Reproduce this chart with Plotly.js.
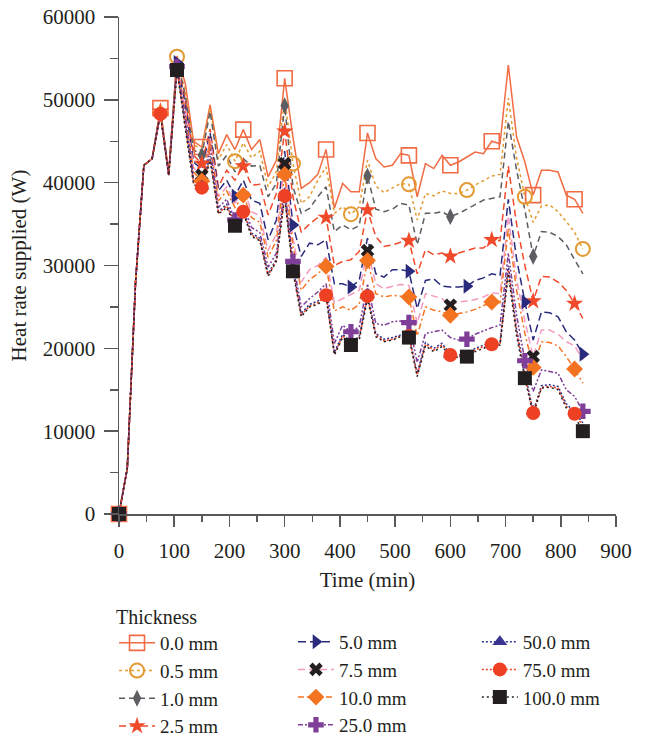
<!DOCTYPE html>
<html>
<head>
<meta charset="utf-8">
<script src="https://cdn.plot.ly/plotly-3.0.1.min.js"></script>
<style>
  html, body { margin: 0; padding: 0; background: #ffffff; }
  #chart { width: 645px; height: 737px; }
</style>
</head>
<body>
<div id="chart"></div>
<script>
// Time axis (min), one sample every 15 min
const timeMin = [0,15,30,45,60,75,90,105,120,135,150,165,180,195,210,225,240,255,270,285,300,315,330,345,360,375,390,405,420,435,450,465,480,495,510,525,540,555,570,585,600,615,630,645,660,675,690,705,720,735,750,765,780,795,810,825,840];

// Heat rate supplied (W) for each insulation thickness
const heat0mm = [0,5500,28000,42100,42900,49000,41100,
  55300,52000,45000,44300,49400,43500,45800,44000,46400,44000,
  45200,40700,42700,52600,45500,39300,40000,41000,44000,36900,
  39900,38900,38900,46000,42900,41900,42100,43500,43300,38300,
  42300,41700,43300,42100,42500,43100,43700,43500,45000,44700,
  54200,45500,42500,38500,41500,41500,41300,38500,38000,36300];
const heat05mm = [0,5500,28000,42100,42900,48900,41100,
  55200,51000,44700,43800,49000,42800,44600,42600,44800,43000,
  43800,39500,41300,50300,42300,37500,38300,40300,41900,36300,
  37100,36200,37100,42700,39600,38800,39300,39900,39800,35500,
  38700,38400,39000,38700,38700,39100,39700,40300,40800,41000,
  50200,43000,38300,35200,37200,37300,36500,35300,34000,32000];
const heat1mm = [0,5500,28000,42100,42900,48800,41100,
  55000,50500,44000,43300,48600,42000,43300,41300,42900,42000,
  42100,38300,39900,49300,39500,36300,36900,38300,39500,34100,
  34900,34300,34800,40800,36800,36500,36800,37500,37300,32500,
  36300,36300,36500,35900,36300,36800,37300,37900,38100,38300,
  47400,41500,36700,31100,34100,34000,33500,32500,30700,29000];
const heat25mm = [0,5500,28000,42100,42900,48600,41100,
  54800,50000,43300,42300,46500,39500,41500,40300,42000,39700,
  39800,36100,38700,46200,38300,34000,35000,35800,35800,30000,
  30500,30700,31700,36700,33500,32300,32500,32800,33000,29000,
  31900,31300,31500,31100,31500,31800,32100,32100,33100,33000,
  42000,35000,30000,25700,28700,28600,28000,27000,25400,23600];
const heat5mm = [0,5500,28000,42100,42900,48500,41000,
  54500,49500,42500,41600,46000,39000,40300,38400,40300,37900,
  37500,33100,35500,43800,34900,31100,32700,32500,33100,27800,
  27800,27400,28200,33300,29000,28600,29500,29500,29300,24800,
  28200,28400,27500,27400,27400,27500,28200,28500,29000,28800,
  38000,30800,25600,21000,24400,24300,23800,22000,21000,19300];
const heat75mm = [0,5500,28000,42100,42900,48500,41000,
  54300,49000,41800,40900,45500,38300,39500,37500,39300,36500,
  36000,31800,33800,42300,33300,28000,29500,30000,31000,25500,
  26000,26600,27000,31800,27800,27200,27500,27700,27600,23000,
  26600,26300,26000,25200,25600,25700,25900,26200,26700,26600,
  36000,28300,23300,19000,22200,22200,21700,20800,20300,18600];
const heat10mm = [0,5500,28000,42100,42900,48400,41000,
  54200,48500,41300,40200,45000,37800,39000,37000,38500,35800,
  35200,31000,33000,41000,32300,27000,28300,29000,29900,24500,
  25000,24600,25300,30600,26600,26200,26400,26300,26200,21500,
  25000,24600,24400,24000,24200,24400,24700,25200,25600,25500,
  34500,27000,21800,17700,20800,20700,20300,19000,17500,15800];
const heat25_0mm = [0,5500,28000,42100,42900,48300,40900,
  54000,48000,40700,39800,44200,37000,38000,35500,37300,34600,
  34000,29800,31500,39500,30500,25000,26000,26800,27800,20600,
  22800,22000,22600,27800,23000,22800,23200,23300,23100,18300,
  21800,22000,22200,21300,21000,21100,21700,22100,22500,22800,
  31500,24000,18500,14800,17400,17200,17000,15000,14200,12400];
const heat50mm = [0,5500,28000,42100,42900,48300,40900,
  53800,47200,40300,39600,43200,36500,37400,35200,36700,33900,
  33300,29000,30800,38500,29700,24200,25300,25700,26600,19500,
  21700,20800,21400,26500,21800,21100,21300,21600,21700,17000,
  20700,20000,20600,19300,19200,19300,20000,20400,20800,20700,
  30000,22300,17000,12400,15500,15600,15400,13300,12300,11000];
const heat75_0mm = [0,5500,28000,42100,42900,48300,40900,
  53700,46800,40000,39400,42900,36300,37200,35000,36500,33700,
  33100,28800,30600,38400,29500,24000,25100,25500,26400,19300,
  21500,20600,21200,26300,21600,20900,21100,21500,21500,16800,
  20500,19800,20400,19200,19000,19100,19800,20200,20500,20500,
  29500,22000,16700,12200,15300,15400,15200,13000,12100,10700];
const heat100mm = [0,5500,28000,42100,42900,48300,40900,
  53600,46500,39800,39200,42700,36200,37000,34800,36300,33500,
  33000,28700,30500,38300,29300,23800,25000,25300,26200,19200,
  21300,20400,21000,26000,21400,20800,21000,21400,21300,16600,
  20300,19600,20200,19100,18900,19000,19600,20000,20400,20400,
  29000,21500,16400,12000,15200,15300,15000,12800,11800,10000];

const thicknessLabels = ['0.0 mm','0.5 mm','1.0 mm','2.5 mm','5.0 mm','7.5 mm',
  '10.0 mm','25.0 mm','50.0 mm','75.0 mm','100.0 mm'];
const seriesValues = [heat0mm, heat05mm, heat1mm, heat25mm, heat5mm, heat75mm,
  heat10mm, heat25_0mm, heat50mm, heat75_0mm, heat100mm];

// Styling per series: line colour/dash, marker symbol/colour and marker spacing (every n-th sample)
const styles = [
  {lc:'#f16b43', dash:'solid',            sym:'square-open',   mc:'#f16b43', ms:15, mlw:1.6, every:5,  legend:'legend'},
  {lc:'#e39a33', dash:'dot',              sym:'circle-open',   mc:'#e39a33', ms:14, mlw:2,   every:7,  legend:'legend'},
  {lc:'#5d5e61', dash:'6px,4px',          sym:'diamond-tall',  mc:'#5d5e61', ms:12, mlw:0,   every:10, legend:'legend'},
  {lc:'#f04a2a', dash:'7px,4px',          sym:'star',          mc:'#f04a2a', ms:13, mlw:0,   every:5,  legend:'legend'},
  {lc:'#2a2b7c', dash:'8px,4px',          sym:'triangle-right',mc:'#2a2b7c', ms:13, mlw:0,   every:7,  legend:'legend2'},
  {lc:'#f49ac1', dash:'7px,4px',          sym:'x',             mc:'#231f20', ms:12, mlw:0,   every:10, legend:'legend2'},
  {lc:'#f47321', dash:'6px,3px,2px,3px',  sym:'diamond',       mc:'#f47321', ms:13, mlw:0,   every:5,  legend:'legend2'},
  {lc:'#7f3f98', dash:'5px,2px,2px,2px,2px,2px', sym:'cross',  mc:'#7f3f98', ms:13, mlw:0,   every:7,  legend:'legend2'},
  {lc:'#2e3192', dash:'2px,2px',          sym:'triangle-up',   mc:'#393591', ms:13, mlw:0,   every:10, legend:'legend3'},
  {lc:'#ee4023', dash:'2px,2px',          sym:'circle',        mc:'#ee4023', ms:14, mlw:0,   every:5,  legend:'legend3'},
  {lc:'#231f20', dash:'2px,3px',          sym:'square',        mc:'#231f20', ms:14, mlw:0,   every:7,  legend:'legend3'}
];

const FONT = 'Liberation Serif, Times New Roman, serif';
const INK = '#231f20';
const AXIS = '#58595b';
const traces = [];

// continuous curves
seriesValues.forEach((vals, i) => {
  const s = styles[i];
  traces.push({
    type:'scatter', mode:'lines', x: timeMin, y: vals,
    line:{color:s.lc, width:1.5, dash:s.dash},
    showlegend:false, hoverinfo:'skip', legendgroup:'g'+i
  });
});

// markers on every n-th sample
seriesValues.forEach((vals, i) => {
  const s = styles[i];
  const xs = [], ys = [];
  vals.forEach((v, k) => { if (k % s.every === 0) { xs.push(timeMin[k]); ys.push(v); } });
  traces.push({
    type:'scatter', mode:'markers', x: xs, y: ys, cliponaxis:false,
    marker:{symbol:s.sym, size:s.ms, color:s.mc, line:{color:s.mc, width:s.mlw}},
    showlegend:false, hoverinfo:'skip', legendgroup:'g'+i
  });
});

// legend entries (line + marker sample)
seriesValues.forEach((vals, i) => {
  const s = styles[i];
  traces.push({
    type:'scatter', mode:'lines+markers', x:[null], y:[null], name: thicknessLabels[i],
    legend: s.legend, legendgroup:'g'+i,
    line:{color:s.lc, width:1.5, dash:s.dash},
    marker:{symbol:s.sym, size:s.ms, color:s.mc, line:{color:s.mc, width:s.mlw}}
  });
});

const legendBase = {
  orientation:'v', xanchor:'left', yanchor:'top', bgcolor:'rgba(0,0,0,0)',
  font:{family:FONT, size:19, color:INK}, itemwidth:36, tracegroupgap:0, itemclick:false
};

const layout = {
  width:645, height:737,
  margin:{l:119, r:29, t:17, b:223, pad:0, autoexpand:false},
  paper_bgcolor:'#ffffff', plot_bgcolor:'#ffffff',
  font:{family:FONT, size:21, color:INK},
  showlegend:true,
  xaxis:{
    range:[0,900], dtick:100, tick0:0, tickformat:'d', showgrid:false, zeroline:false,
    showline:true, linecolor:AXIS, linewidth:1.5,
    ticks:'outside', ticklen:11, tickwidth:1.5, tickcolor:AXIS,
    minor:{dtick:50, ticks:'outside', ticklen:6, tickwidth:1.5, tickcolor:AXIS, showgrid:false},
    ticklabelstandoff:6,
    tickfont:{family:FONT, size:21, color:INK},
    title:{text:'Time (min)', font:{family:FONT, size:21, color:INK}, standoff:10}
  },
  yaxis:{
    range:[0,60000], dtick:10000, tick0:0, tickformat:'d', showgrid:false, zeroline:false,
    showline:true, linecolor:AXIS, linewidth:1.5,
    ticks:'outside', ticklen:14, tickwidth:1.5, tickcolor:AXIS,
    minor:{dtick:5000, ticks:'outside', ticklen:8, tickwidth:1.5, tickcolor:AXIS, showgrid:false},
    ticklabelstandoff:4,
    tickfont:{family:FONT, size:21, color:INK},
    title:{text:'Heat rate supplied (W)', font:{family:FONT, size:21, color:INK}, standoff:10}
  },
  legend: Object.assign({}, legendBase, {x:-0.01, y:-0.169,
    title:{text:'Thickness', side:'top', font:{family:FONT, size:20, color:INK}}}),
  legend2: Object.assign({}, legendBase, {x:0.35, y:-0.219}),
  legend3: Object.assign({}, legendBase, {x:0.72, y:-0.219})
};

Plotly.newPlot('chart', traces, layout, {staticPlot:true, displayModeBar:false});
</script>
</body>
</html>
